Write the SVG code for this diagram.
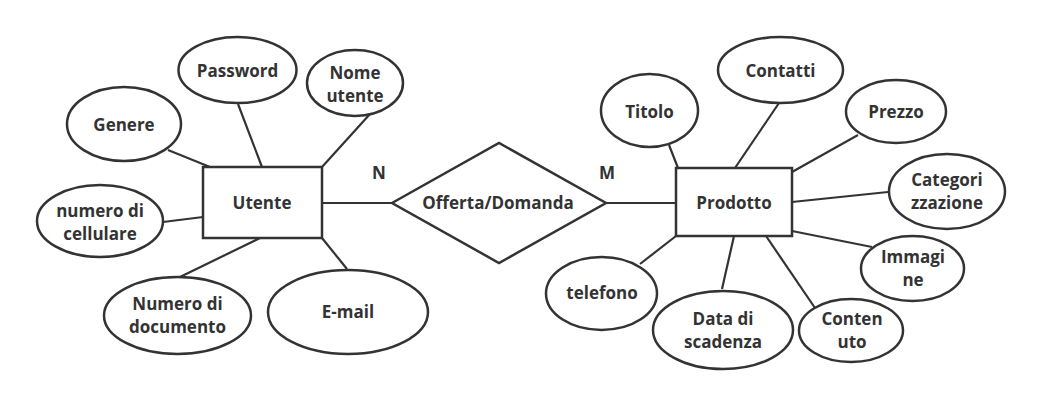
<svg xmlns="http://www.w3.org/2000/svg" width="1041" height="406" viewBox="0 0 1041 406">
<style>
.s{fill:#fff;stroke:#333;stroke-width:2.5}
.c line{stroke:#333;stroke-width:2.2}
text{font-family:"Open Sans","Liberation Sans",sans-serif;font-weight:bold;font-size:17px;fill:#333;text-anchor:middle;dominant-baseline:central}
</style>
<rect width="1041" height="406" fill="#fff"/>
<g class="c" id="connectors">
<line x1="168" y1="150" x2="210" y2="167"/>
<line x1="238" y1="104" x2="262" y2="167"/>
<line x1="322" y1="167" x2="370" y2="114"/>
<line x1="163" y1="222" x2="203" y2="217"/>
<line x1="260" y1="238" x2="180" y2="277"/>
<line x1="322" y1="238" x2="347" y2="269"/>
<line x1="322" y1="203" x2="392" y2="203"/>
<line x1="606" y1="203" x2="676" y2="203"/>
<line x1="669" y1="145" x2="678" y2="168"/>
<line x1="779" y1="103" x2="735" y2="168"/>
<line x1="858" y1="135" x2="792" y2="172"/>
<line x1="792" y1="202" x2="888" y2="192"/>
<line x1="792" y1="231" x2="872" y2="247"/>
<line x1="676" y1="236" x2="640" y2="264"/>
<line x1="734" y1="236" x2="722" y2="289"/>
<line x1="766" y1="236" x2="815" y2="308"/>
</g>
<text x="379" y="172">N</text>
<text x="607" y="172">M</text>
<g id="utente"><rect class="s" x="203" y="167" width="119" height="71"/><text x="262" y="202">Utente</text></g>
<g id="password"><ellipse class="s" cx="237.5" cy="70" rx="59" ry="33"/><text x="237.5" y="70">Password</text></g>
<g id="genere"><ellipse class="s" cx="124" cy="124" rx="57" ry="37"/><text x="124" y="124">Genere</text></g>
<g id="nome-utente"><ellipse class="s" cx="355" cy="83" rx="48" ry="33"/><text x="355" y="72">Nome</text><text x="355" y="95">utente</text></g>
<g id="cellulare"><ellipse class="s" cx="100" cy="221" rx="63" ry="36"/><text x="100" y="210">numero di</text><text x="100" y="233">cellulare</text></g>
<g id="documento"><ellipse class="s" cx="177.5" cy="315.5" rx="73.5" ry="38.5"/><text x="177.5" y="303.5">Numero di</text><text x="177.5" y="326.5">documento</text></g>
<g id="email"><ellipse class="s" cx="348" cy="312" rx="80" ry="42"/><text x="348" y="311">E-mail</text></g>
<g id="offerta"><polygon class="s" points="392,203 499,143 606,203 499,263"/><text x="498" y="202">Offerta/Domanda</text></g>
<g id="prodotto"><rect class="s" x="676" y="168" width="116" height="68"/><text x="734" y="202">Prodotto</text></g>
<g id="titolo"><ellipse class="s" cx="649.5" cy="110.5" rx="48.5" ry="36.5"/><text x="649.5" y="111">Titolo</text></g>
<g id="contatti"><ellipse class="s" cx="780.5" cy="70" rx="62.5" ry="33"/><text x="780.5" y="70">Contatti</text></g>
<g id="prezzo"><ellipse class="s" cx="896" cy="111.5" rx="50" ry="31.5"/><text x="896" y="111">Prezzo</text></g>
<g id="categorizzazione"><ellipse class="s" cx="947" cy="191.5" rx="58" ry="37.5"/><text x="947" y="179.5">Categori</text><text x="947" y="202.5">zzazione</text></g>
<g id="immagine"><ellipse class="s" cx="912.5" cy="268.5" rx="51.5" ry="32.5"/><text x="913" y="256">Immagi</text><text x="913" y="279">ne</text></g>
<g id="telefono"><ellipse class="s" cx="601.5" cy="293.5" rx="55.5" ry="36.5"/><text x="602" y="292">telefono</text></g>
<g id="scadenza"><ellipse class="s" cx="723" cy="330" rx="70" ry="39"/><text x="723" y="318">Data di</text><text x="723" y="341">scadenza</text></g>
<g id="contenuto"><ellipse class="s" cx="851" cy="330.5" rx="52" ry="31.5"/><text x="852" y="318">Conten</text><text x="852" y="341">uto</text></g>
</svg>
